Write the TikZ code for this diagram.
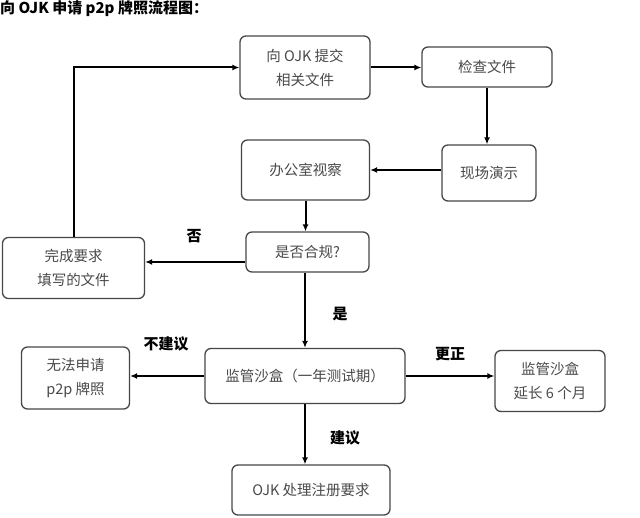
\documentclass[tikz,border=0pt]{standalone}
\usepackage{fontspec}
\setmainfont{Noto Sans CJK SC}
\usetikzlibrary{arrows.meta,calc}
\definecolor{boxline}{HTML}{474747}
\definecolor{boxtext}{HTML}{4A4A4A}
\tikzset{
  box/.style={draw=boxline, line width=1.3pt, rounded corners=6pt, align=center,
    text=boxtext, font=\fontsize{14.5}{24}\selectfont, inner sep=0pt},
  arr/.style={draw=black, line width=2pt, -{Latex[length=7pt,width=6pt]}},
  lbl/.style={font=\fontsize{15}{17}\selectfont\bfseries, text=black, inner sep=0pt},
}
\begin{document}
\begin{tikzpicture}[x=1pt,y=-1pt]
\useasboundingbox[fill=white] (0,0) rectangle (640,518);
\node[anchor=west, font=\fontsize{15}{17}\selectfont\bfseries, inner sep=0pt] (title) at (0,9) {向 OJK 申请 p2p 牌照流程图：};
\node[box, minimum width=130pt, minimum height=63pt] (b1) at (305,67.5) {向 OJK 提交\\相关文件};
\node[box, minimum width=130pt, minimum height=40pt] (b2) at (487,67) {检查文件};
\node[box, minimum width=128pt, minimum height=60pt] (b3) at (305.5,170) {办公室视察};
\node[box, minimum width=94pt, minimum height=56pt] (b4) at (489,173) {现场演示};
\node[box, minimum width=123pt, minimum height=40pt] (b5) at (307.5,252) {是否合规?};
\node[box, minimum width=142pt, minimum height=61pt] (b6) at (73.5,268) {完成要求\\填写的文件};
\node[box, minimum width=200pt, minimum height=55pt] (b7) at (305,376) {监管沙盒（一年测试期）};
\node[box, minimum width=108pt, minimum height=62pt] (b8) at (75.5,378) {无法申请\\p2p 牌照};
\node[box, minimum width=110pt, minimum height=61pt] (b9) at (550,381) {监管沙盒\\延长 6 个月};
\node[box, minimum width=158pt, minimum height=50pt] (b10) at (311,490) {OJK 处理注册要求};

\draw[arr] (b6.north) |- (b1.west);
\draw[arr] (b1.east) -- (b1.east -| b2.west);
\draw[arr] (b2.south) -- (b2.south |- b4.north);
\draw[arr] (b4.west |- b3.east) -- (b3.east);
\draw[arr] (b3.south) -- (b3.south |- b5.north);
\draw[arr] ([yshift=-10pt]b5.west) -- ([yshift=-10pt]b5.west -| b6.east);
\draw[arr] (b7.north |- b5.south) -- (b7.north);
\draw[arr] (b7.west) -- (b7.west -| b8.east);
\draw[arr] (b7.east) -- (b7.east -| b9.west);
\draw[arr] (b7.south) -- (b7.south |- b10.north);

\node[lbl] (l1) at (194,236) {否};
\node[lbl] (l2) at (340,314) {是};
\node[lbl] (l3) at (166,344) {不建议};
\node[lbl] (l4) at (450,354) {更正};
\node[lbl] (l5) at (345,438) {建议};
\end{tikzpicture}
\end{document}
